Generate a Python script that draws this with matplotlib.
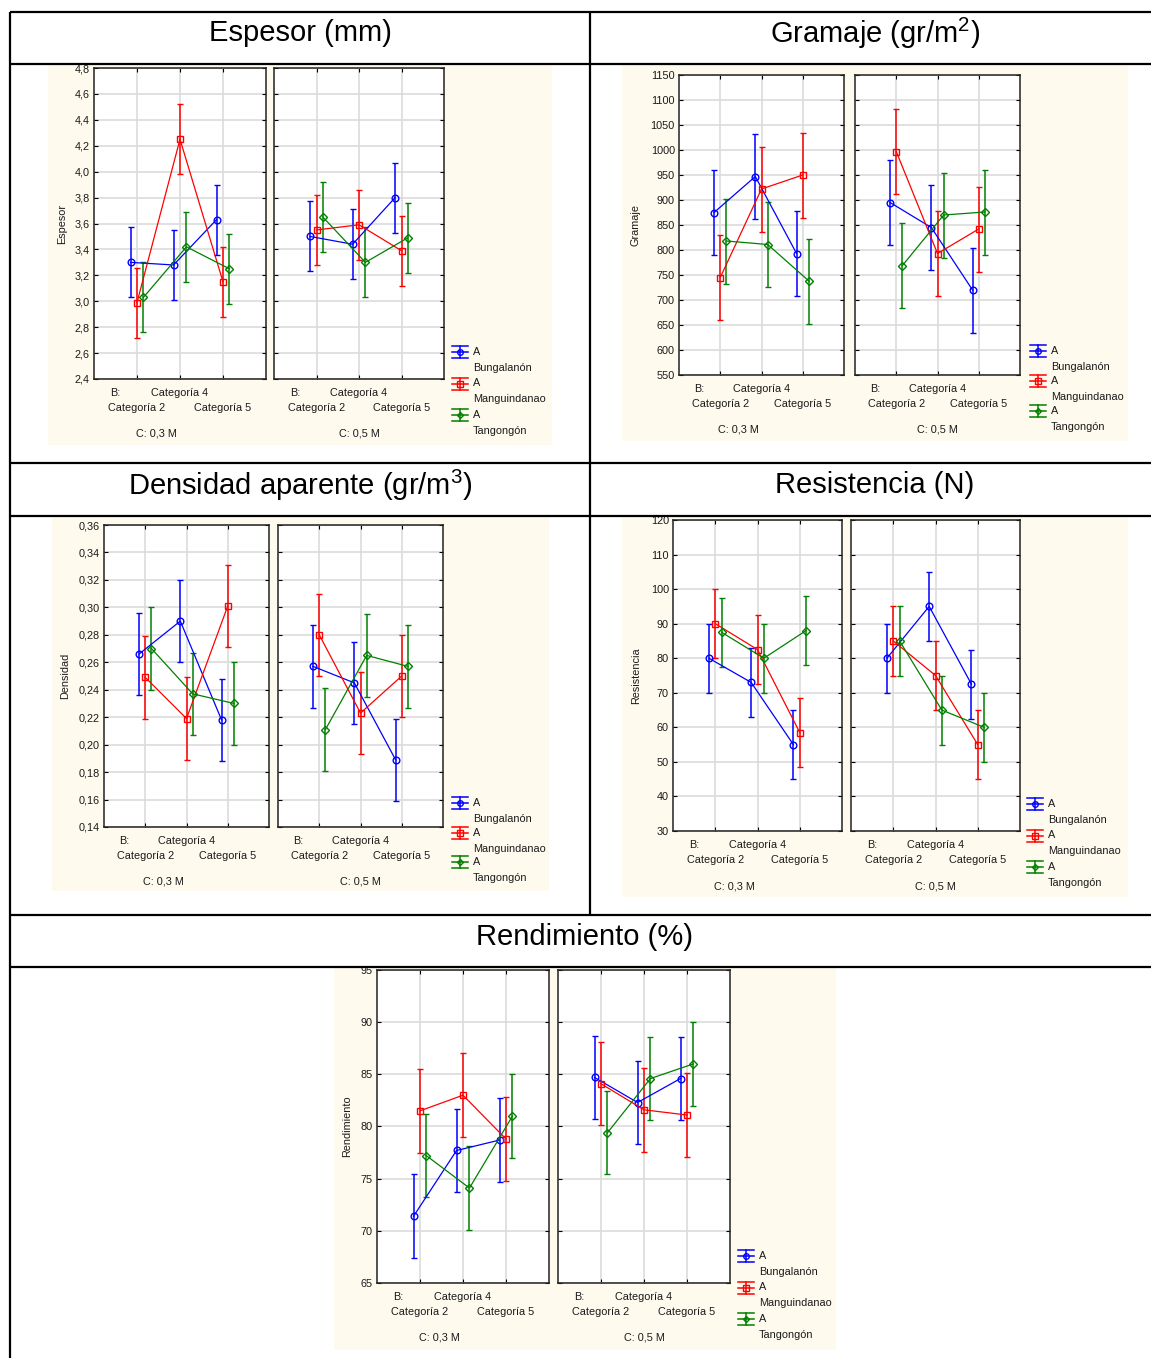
import numpy as np
import matplotlib
matplotlib.use('Agg')
import matplotlib.pyplot as plt
from matplotlib.patches import Rectangle

plt.rcParams['font.family'] = ['Liberation Sans', 'DejaVu Sans']
plt.rcParams['mathtext.fontset'] = 'custom'
plt.rcParams['mathtext.rm'] = 'Liberation Sans'

W, H = 1151, 1358

categories = ['Categoría 2', 'Categoría 4', 'Categoría 5']
varieties = ['Bungalanón', 'Manguindanao', 'Tangongón']
concentrations = ['C: 0,3 M', 'C: 0,5 M']

# means: one row per variety, one column per category
espesor_03 = [[3.30, 3.28, 3.63], [2.99, 4.25, 3.15], [3.03, 3.42, 3.25]]
espesor_05 = [[3.50, 3.44, 3.80], [3.55, 3.59, 3.39], [3.65, 3.30, 3.49]]
espesor_ci = 0.27

gramaje_03 = [[875, 947, 793], [745, 922, 950], [818, 811, 738]]
gramaje_05 = [[895, 845, 720], [997, 793, 842], [769, 870, 876]]
gramaje_ci = 85

densidad_03 = [[0.266, 0.290, 0.218], [0.249, 0.219, 0.301], [0.270, 0.237, 0.230]]
densidad_05 = [[0.257, 0.245, 0.189], [0.280, 0.223, 0.250], [0.211, 0.265, 0.257]]
densidad_ci = 0.030

resistencia_03 = [[80, 73, 55], [90, 82.5, 58.5], [87.5, 80, 88]]
resistencia_05 = [[80, 95, 72.5], [85, 75, 55], [85, 65, 60]]
resistencia_ci = 10

rendimiento_03 = [[71.4, 77.7, 78.7], [81.5, 83.0, 78.8], [77.2, 74.1, 81.0]]
rendimiento_05 = [[84.7, 82.3, 84.6], [84.1, 81.6, 81.1], [79.4, 84.6, 86.0]]
rendimiento_ci = 4.0

colors = ['#0000ff', '#ff0000', '#008000']
markers = ['o', 's', 'D']
msizes = [4.8, 4.8, 3.8]
offsets = [-0.15, 0.0, 0.15]

cream = '#fefaee'

panels = [
    dict(title='Espesor (mm)', ylabel='Espesor', means=(espesor_03, espesor_05), ci=espesor_ci,
         ylim=(2.4, 4.8), step=0.2, dec=1,
         bg=(48, 64, 552, 445), axes=((94, 68, 266, 379), (274, 68, 444, 379)),
         ylab_x=62, legend=(460, 352, 31.5)),
    dict(title='Gramaje (gr/m$^{2}$)', ylabel='Gramaje', means=(gramaje_03, gramaje_05), ci=gramaje_ci,
         ylim=(550, 1150), step=50, dec=0,
         bg=(622, 64, 1128, 441), axes=((679, 75, 844, 375), (855, 75, 1020, 375)),
         ylab_x=636, legend=(1038, 351, 30)),
    dict(title='Densidad aparente (gr/m$^{3}$)', ylabel='Densidad', means=(densidad_03, densidad_05), ci=densidad_ci,
         ylim=(0.14, 0.36), step=0.02, dec=2,
         bg=(52, 516, 549, 891), axes=((104, 525, 269, 827), (278, 525, 443, 827)),
         ylab_x=65, legend=(460, 803, 29.5)),
    dict(title='Resistencia (N)', ylabel='Resistencia', means=(resistencia_03, resistencia_05), ci=resistencia_ci,
         ylim=(30, 120), step=10, dec=0,
         bg=(622, 516, 1128, 897), axes=((673, 520, 842, 831), (851, 520, 1020, 831)),
         ylab_x=636, legend=(1035, 804, 31.5)),
    dict(title='Rendimiento (%)', ylabel='Rendimiento', means=(rendimiento_03, rendimiento_05), ci=rendimiento_ci,
         ylim=(65, 95), step=5, dec=0,
         bg=(334, 967, 836, 1350), axes=((377, 970, 549, 1283), (558, 970, 730, 1283)),
         ylab_x=347, legend=(746, 1256, 31.5)),
]

headers = [('Espesor (mm)', 300, 33), ('Gramaje (gr/m$^{2}$)', 875, 33),
           ('Densidad aparente (gr/m$^{3}$)', 300, 485), ('Resistencia (N)', 875, 485),
           ('Rendimiento (%)', 585, 937)]

fig = plt.figure(figsize=(W / 100, H / 100), dpi=100)

# pixel-coordinate canvas behind everything (cream panels, titles, legends)
bg = fig.add_axes([0, 0, 1, 1], zorder=-1)
bg.set_xlim(0, W)
bg.set_ylim(H, 0)
bg.axis('off')

# table rules drawn over the charts
top = fig.add_axes([0, 0, 1, 1], zorder=10)
top.set_xlim(0, W)
top.set_ylim(H, 0)
top.axis('off')
top.patch.set_alpha(0)


def px_axes(x0, y0, x1, y1):
    return fig.add_axes([x0 / W, 1 - y1 / H, (x1 - x0) / W, (y1 - y0) / H])


def fmt_tick(v, dec):
    return ('{:.%df}' % dec).format(v).replace('.', ',')


for text, x, y in headers:
    bg.text(x, y, text, fontsize=21, ha='center', va='center', color='black')

txt_kw = dict(fontsize=7.8, color='#1a1a1a')

for p in panels:
    x0, y0, x1, y1 = p['bg']
    bg.add_patch(Rectangle((x0, y0), x1 - x0, y1 - y0, facecolor=cream, edgecolor='none'))

    lo, hi = p['ylim']
    ticks = np.arange(lo, hi + p['step'] / 2, p['step'])
    cats = np.arange(1, 4)

    for k, (box, means) in enumerate(zip(p['axes'], p['means'])):
        ax = px_axes(*box)
        ax.set_facecolor('white')
        ax.set_xlim(0, 4)
        ax.set_ylim(lo, hi)
        ax.set_xticks(cats)
        ax.set_yticks(ticks)
        ax.grid(True, color='#dcdcdc', lw=1.2, zorder=0)
        ax.set_axisbelow(True)
        for s in ax.spines.values():
            s.set_linewidth(1.1)
            s.set_color('#222222')
        ax.tick_params(direction='in', length=3, width=0.8, top=True, right=True,
                       labelbottom=False, labelleft=(k == 0), labelsize=7.8,
                       labelcolor='#1a1a1a', pad=3)
        if k == 0:
            ax.set_yticklabels([fmt_tick(t, p['dec']) for t in ticks])

        for i in range(3):
            ax.errorbar(cats + offsets[i], means[i], yerr=p['ci'], color=colors[i], lw=0.9,
                        ecolor=colors[i], elinewidth=1.1, capsize=2, capthick=1.1,
                        marker=markers[i], ms=msizes[i], mfc='none', mec=colors[i], mew=1.0)

        # category labels in two staggered rows plus the concentration level
        def lab(s, x, dy):
            ax.annotate(s, xy=(x, 0), xycoords=('data', 'axes fraction'), xytext=(0, -dy),
                        textcoords='offset pixels', ha='center', va='center',
                        annotation_clip=False, **txt_kw)
        lab('B:', 0.5, 14)
        lab(categories[1], 2, 14)
        lab(categories[0], 1, 29)
        lab(categories[2], 3, 29)
        lab(concentrations[k], 1.45 if k == 0 else 2.0, 55)

    ay0, ay1 = p['axes'][0][1], p['axes'][0][3]
    bg.text(p['ylab_x'], (ay0 + ay1) / 2, p['ylabel'], rotation=90, ha='center', va='center', **txt_kw)

    lx, ly, gap = p['legend']
    for i in range(3):
        yc = ly + i * gap
        for dy in (-6, 0, 6):
            bg.plot([lx - 8, lx + 8], [yc + dy, yc + dy], color=colors[i], lw=1.1)
        bg.plot([lx, lx], [yc - 6, yc + 6], color=colors[i], lw=1.1)
        bg.plot([lx], [yc], marker=markers[i], ms=msizes[i] - 0.8, mfc='none', mec=colors[i], mew=1.0)
        bg.text(lx + 13, yc, 'A', ha='left', va='center', **txt_kw)
        bg.text(lx + 13, yc + 16, varieties[i], ha='left', va='center', **txt_kw)

# table borders
for y in (12, 64, 463, 516, 915, 967):
    top.plot([10, W], [y, y], color='black', lw=1.6, solid_capstyle='butt')
top.plot([10, 10], [12, H], color='black', lw=1.6, solid_capstyle='butt')
top.plot([590, 590], [12, 915], color='black', lw=1.6, solid_capstyle='butt')

fig.savefig('out.png', dpi=100)
